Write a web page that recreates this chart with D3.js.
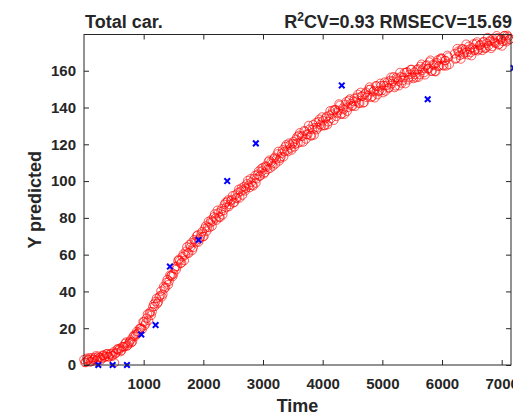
<!DOCTYPE html>
<html>
<head>
<meta charset="utf-8">
<script src="https://cdn.jsdelivr.net/npm/d3@7"></script>
<style>
  html, body { margin: 0; padding: 0; background: #fff; }
  svg { display: block; }
</style>
</head>
<body>
<svg id="chart" width="513" height="413"></svg>
<script>
// ---- data ----
const titleLeft = "Total car.";
const xLabel = "Time";
const yLabel = "Y predicted";
const xTicks = [1000, 2000, 3000, 4000, 5000, 6000, 7000];
const yTicks = [0, 20, 40, 60, 80, 100, 120, 140, 160];

// cross-validated predictions (red circles), first batch
const predTime = [
  0,30,60,90,120,150,180,210,240,270,300,330,360,390,420,450,480,510,540,570,
  600,630,660,690,720,750,780,810,840,870,900,930,960,990,1020,1050,1080,1110,1140,1170,
  1200,1230,1260,1290,1320,1350,1380,1410,1440,1470,1500,1530,1560,1590,1620,1650,1680,1710,1740,1770,
  1800,1830,1860,1890,1920,1950,1980,2010,2040,2070,2100,2130,2160,2190,2220,2250,2280,2310,2340,2370,
  2400,2430,2460,2490,2520,2550,2580,2610,2640,2670,2700,2730,2760,2790,2820,2850,2880,2910,2940,2970,
  3000,3030,3060,3090,3120,3150,3180,3210,3240,3270,3300,3330,3360,3390,3420,3450,3480,3510,3540,3570,
  3600,3630,3660,3690,3720,3750,3780,3810,3840,3870,3900,3930,3960,3990,4020,4050,4080,4110,4140,4170,
  4200,4230,4260,4290,4320,4350,4380,4410,4440,4470,4500,4530,4560,4590,4620,4650,4680,4710,4740,4770,
  4800,4830,4860,4890,4920,4950,4980,5010,5040,5070,5100,5130,5160,5190,5220,5250,5280,5310,5340,5370,
  5400,5430,5460,5490,5520,5550,5580,5610,5640,5670,5700,5730,5760,5790,5820,5850,5880,5910,5940,5970,
  6000,6030,6060,6090,6120,6210,6240,6270,6300,6330,6360,6390,6420,6450,6480,6510,6540,6570,6600,6630,
  6660,6690,6720,6750,6780,6810,6840,6870,6900,6930,6960,6990,7020,7050,7080,7110,7140
];
const predValue = [
  3.0,1.4,2.6,3.9,1.9,2.8,4.0,2.4,4.8,4.1,3.6,5.3,4.6,6.2,4.4,6.2,4.9,1.2,6.7,8.7,
  9.0,8.0,9.9,11.7,10.3,11.8,13.6,12.7,16.2,16.6,17.1,19.8,20.1,23.6,21.6,25.4,24.3,28.9,29.0,33.1,
  34.5,33.4,36.9,40.2,38.5,41.5,44.8,43.6,48.8,48.9,49.5,53.4,53.6,57.4,55.3,58.9,56.8,61.8,61.0,65.4,
  66.4,63.9,67.2,70.2,66.9,69.5,72.5,70.0,75.6,74.9,74.7,78.8,78.2,82.1,78.8,82.6,80.2,85.0,84.0,88.2,
  88.9,86.2,89.2,92.0,88.5,90.9,93.6,90.9,96.2,95.2,94.7,98.5,97.6,101.2,97.8,101.4,99.0,103.7,102.7,106.7,
  107.4,104.7,107.7,110.5,107.0,109.4,112.1,109.4,114.7,111.0,113.2,117.0,116.1,119.7,116.1,119.6,116.9,121.4,120.1,124.0,
  124.8,121.2,124.4,127.4,122.9,125.4,128.2,124.6,130.6,129.0,128.0,132.3,130.8,134.8,130.2,134.1,130.7,135.8,134.1,138.4,
  138.8,135.2,138.3,141.2,136.5,138.9,141.7,138.0,143.8,142.1,140.9,144.9,143.4,147.1,142.3,146.1,142.5,147.4,145.5,149.7,
  149.9,146.1,149.1,151.8,147.0,149.3,151.9,148.1,153.8,152.0,150.7,154.7,153.0,156.7,151.8,155.5,151.9,156.7,154.7,158.9,
  159.0,155.1,158.0,160.7,155.8,158.0,160.5,156.6,162.3,160.3,159.0,162.8,161.1,164.7,159.7,163.4,159.7,164.4,162.4,166.4,
  166.5,162.6,165.6,168.3,163.4,169.2,166.8,170.6,168.4,171.9,169.0,171.4,170.2,173.3,169.9,172.4,171.0,174.6,170.9,173.8,
  172.5,175.7,172.1,175.0,173.6,176.6,173.2,176.1,174.9,177.9,174.5,177.3,176.0,179.1,175.8,178.4,177.2
];

// cross-validated predictions (red circles), second batch
const predTimeB = [
  15,45,75,105,135,165,195,225,255,285,315,345,375,405,435,465,495,525,555,585,
  615,645,675,705,735,765,795,825,855,885,915,945,975,1005,1035,1065,1095,1125,1155,1185,
  1215,1245,1275,1305,1335,1365,1395,1425,1455,1485,1515,1545,1575,1605,1635,1665,1695,1725,1755,1785,
  1815,1845,1875,1905,1935,1965,1995,2025,2055,2085,2115,2145,2175,2205,2235,2265,2295,2325,2355,2385,
  2415,2445,2475,2505,2535,2565,2595,2625,2655,2685,2715,2745,2775,2805,2835,2865,2895,2925,2955,2985,
  3015,3045,3075,3105,3135,3165,3195,3225,3255,3285,3315,3345,3375,3405,3435,3465,3495,3525,3555,3585,
  3615,3645,3675,3705,3735,3765,3795,3825,3855,3885,3915,3945,3975,4005,4035,4065,4095,4125,4155,4185,
  4215,4245,4275,4305,4335,4365,4395,4425,4455,4485,4515,4545,4575,4605,4635,4665,4695,4725,4755,4785,
  4815,4845,4875,4905,4935,4965,4995,5025,5055,5085,5115,5145,5175,5205,5235,5265,5295,5325,5355,5385,
  5415,5445,5475,5505,5535,5565,5595,5625,5655,5685,5715,5745,5775,5805,5835,5865,5895,5925,5955,5985,
  6015,6045,6075,6105,6225,6255,6285,6315,6345,6375,6405,6435,6465,6495,6525,6555,6585,6615,6645,6675,
  6705,6735,6765,6795,6825,6855,6885,6915,6945,6975,7005,7035,7065,7095,7125
];
const predValueB = [
  1.4,3.6,2.9,1.7,3.8,3.1,4.9,2.8,4.0,2.8,5.3,4.2,5.9,4.6,5.8,5.0,7.1,6.2,8.6,8.1,
  7.3,10.0,9.9,12.4,10.8,12.7,12.1,15.5,15.5,18.2,17.8,19.9,19.4,23.4,22.8,27.7,27.8,27.0,31.7,31.9,
  36.2,34.3,37.7,37.1,42.6,42.3,46.4,45.5,48.4,48.1,52.4,51.9,56.7,56.7,55.6,60.3,59.8,64.2,60.8,64.1,
  62.4,68.1,66.5,70.7,68.5,71.2,69.8,74.3,72.8,78.0,77.3,75.5,80.5,79.9,84.1,80.5,83.5,81.7,87.3,85.7,
  89.7,87.3,89.8,88.2,92.4,90.6,95.5,94.5,92.4,97.1,96.2,100.3,96.5,99.4,97.4,103.0,101.3,105.3,102.9,105.5,
  104.0,108.2,106.4,111.3,110.3,108.2,112.9,112.0,116.1,112.3,115.2,113.2,118.7,116.8,120.6,118.0,120.4,118.6,122.7,120.7,
  126.2,124.5,121.3,127.0,125.4,130.2,124.8,128.1,125.1,131.7,129.0,133.6,130.0,132.8,130.2,135.1,132.3,138.2,136.4,133.1,
  138.8,137.1,141.9,136.4,139.6,136.4,143.1,140.1,144.6,140.8,143.4,140.7,145.5,142.5,148.2,146.2,142.8,148.3,146.4,151.1,
  145.5,148.6,145.3,151.7,148.7,153.1,149.3,151.9,149.0,153.8,150.7,156.4,154.3,150.9,156.3,154.3,159.0,153.3,156.3,153.0,
  159.4,156.3,160.6,156.7,159.2,156.3,161.0,157.9,163.5,161.3,157.8,163.1,161.1,165.7,159.9,162.9,159.5,165.8,162.7,166.9,
  163.0,165.5,162.7,167.4,166.4,172.0,169.9,166.4,171.8,169.8,174.4,168.7,171.7,168.2,174.5,171.4,175.6,171.6,174.1,171.1,
  175.7,172.5,178.0,175.8,172.2,177.5,175.4,179.0,174.1,177.0,173.5,178.9,176.6,179.2,176.8
];

// reference measurements (blue crosses)
const refTime = [240, 480, 720, 960, 1200, 1440, 1920, 2400, 2880, 4320, 5760, 7200];
const refValue = [0, 0, 0, 16.6, 21.7, 53.5, 68, 100, 120.5, 152, 144.5, 161.5];

(function () {
  // ---- layout ----
  const svg = d3.select("#chart");
  const mLeft = 84, mRight = 511, mTop = 34.5, mBottom = 365;
  const ink = "#262626";
  const font = "'Liberation Sans', Arial, Helvetica, sans-serif";

  const x = d3.scaleLinear().domain([0, 7156]).range([mLeft, mRight]);
  const y = d3.scaleLinear().domain([0, 179.7]).range([mBottom, mTop]);

  // red circles
  const preds = predTime.map((t, i) => ({ t, v: predValue[i] }))
    .concat(predTimeB.map((t, i) => ({ t, v: predValueB[i] })));
  svg.append("g")
    .selectAll("circle")
    .data(preds)
    .enter().append("circle")
    .attr("cx", d => x(d.t))
    .attr("cy", d => y(d.v))
    .attr("r", 4.3)
    .attr("fill", "none")
    .attr("stroke", "#ff0000")
    .attr("stroke-width", 0.65);

  // blue crosses
  const refs = refTime.map((t, i) => ({ t, v: refValue[i] }));
  const s = 2.8;
  svg.append("g")
    .selectAll("path")
    .data(refs)
    .enter().append("path")
    .attr("d", d => {
      const cx = x(d.t), cy = y(d.v);
      return `M${cx - s},${cy - s}L${cx + s},${cy + s}M${cx - s},${cy + s}L${cx + s},${cy - s}`;
    })
    .attr("stroke", "#0000ff")
    .attr("stroke-width", 2)
    .attr("fill", "none");

  // axes
  function styleAxis(g) {
    g.select(".domain").remove();
    g.selectAll(".tick line").attr("stroke", ink);
    g.selectAll(".tick text")
      .attr("fill", ink)
      .style("font-family", font)
      .style("font-weight", "bold")
      .style("font-size", "15px");
  }

  svg.append("g")
    .attr("transform", `translate(0,${mBottom})`)
    .call(d3.axisBottom(x).tickValues(xTicks).tickFormat(d3.format("d")).tickSizeInner(-5).tickSizeOuter(0).tickPadding(13))
    .call(styleAxis);

  svg.append("g")
    .attr("transform", `translate(0,${mTop})`)
    .call(d3.axisTop(x).tickValues(xTicks).tickFormat("").tickSizeInner(-5).tickSizeOuter(0))
    .call(styleAxis);

  svg.append("g")
    .attr("transform", `translate(${mLeft},0)`)
    .call(d3.axisLeft(y).tickValues(yTicks).tickFormat(d3.format("d")).tickSizeInner(-5).tickSizeOuter(0).tickPadding(8))
    .call(styleAxis);

  svg.append("g")
    .attr("transform", `translate(${mRight},0)`)
    .call(d3.axisRight(y).tickValues(yTicks).tickFormat("").tickSizeInner(-5).tickSizeOuter(0))
    .call(styleAxis);

  // box
  svg.append("rect")
    .attr("x", mLeft).attr("y", mTop)
    .attr("width", mRight - mLeft).attr("height", mBottom - mTop)
    .attr("fill", "none").attr("stroke", ink).attr("stroke-width", 1);

  // titles
  svg.append("text")
    .attr("x", mLeft + 1).attr("y", 28)
    .attr("fill", ink)
    .style("font-family", font).style("font-weight", "bold").style("font-size", "18px")
    .text(titleLeft);

  const rt = svg.append("text")
    .attr("x", 512).attr("y", 28)
    .attr("text-anchor", "end")
    .attr("fill", ink)
    .style("font-family", font).style("font-weight", "bold").style("font-size", "18px");
  rt.append("tspan").text("R");
  rt.append("tspan").attr("dy", -7).style("font-size", "12px").text("2");
  rt.append("tspan").attr("dy", 7).text("CV=0.93 RMSECV=15.69");

  // axis labels
  svg.append("text")
    .attr("x", (mLeft + mRight) / 2).attr("y", 412)
    .attr("text-anchor", "middle")
    .attr("fill", ink)
    .style("font-family", font).style("font-weight", "bold").style("font-size", "18px")
    .text(xLabel);

  svg.append("text")
    .attr("transform", `translate(41,${(mTop + mBottom) / 2}) rotate(-90)`)
    .attr("text-anchor", "middle")
    .attr("fill", ink)
    .style("font-family", font).style("font-weight", "bold").style("font-size", "18px")
    .text(yLabel);
})();
</script>
</body>
</html>
